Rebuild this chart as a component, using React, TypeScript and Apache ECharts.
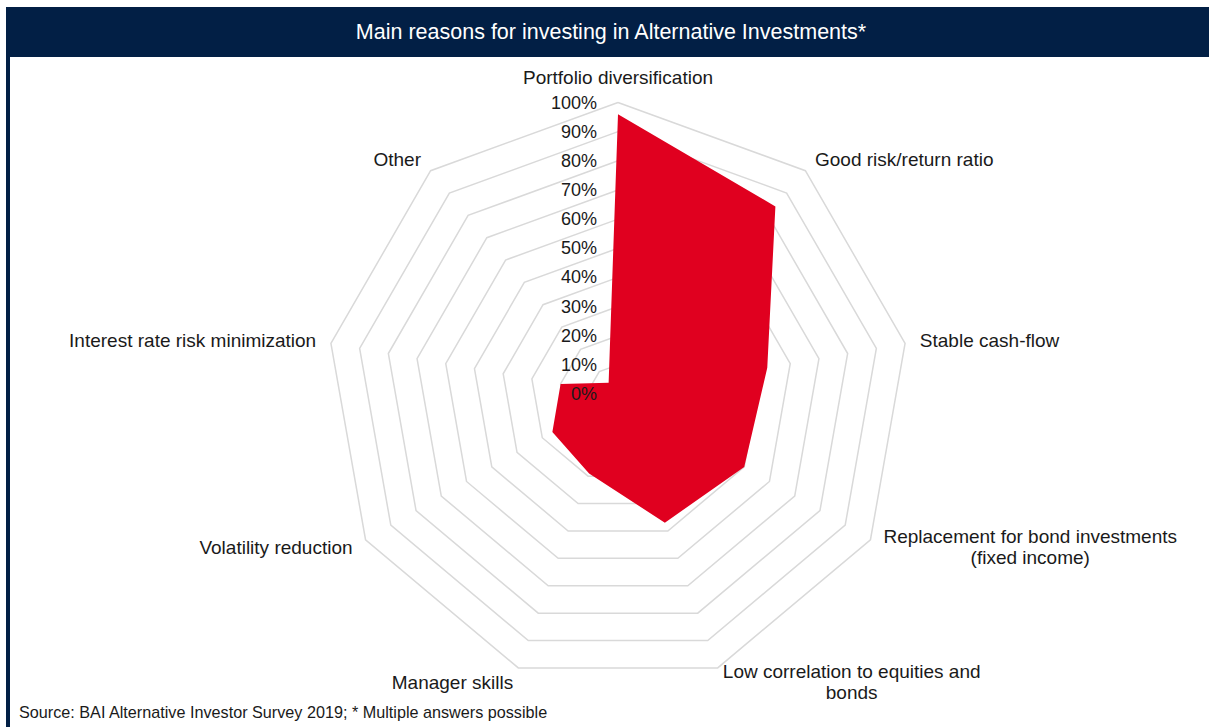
import React, { useEffect, useRef } from "react";
import * as echarts from "echarts";

// ---- data (clockwise from top) ----
const categories: string[] = [
  "Portfolio diversification",
  "Good risk/return ratio",
  "Stable cash-flow",
  "Replacement for bond investments\n(fixed income)",
  "Low correlation to equities and\nbonds",
  "Manager skills",
  "Volatility reduction",
  "Interest rate risk minimization",
  "Other",
];
const shares: number[] = [96, 84, 52, 50, 47, 29, 26, 20, 5];
const axisMax = 100;
const tickStep = 10;

const TITLE = "Main reasons for investing in Alternative Investments*";
const SOURCE = "Source: BAI Alternative Investor Survey 2019; * Multiple answers possible";

const FONT = "'Liberation Sans', Arial, sans-serif";
const NAVY = "#021f45";
const RED = "#e0001f";
const TEXT = "#1a1a1a";
const GRID = "#d9d9d9";

export default function App() {
  const ref = useRef<HTMLDivElement>(null);

  useEffect(() => {
    document.body.style.margin = "0";
    document.body.style.overflow = "hidden";
    if (!ref.current) return;
    const chart = echarts.init(ref.current, undefined, { renderer: "svg" });

    // ECharts radar runs counter-clockwise; reorder so the picture runs clockwise.
    const order = [0, ...categories.map((_, i) => i).slice(1).reverse()];
    const indicators = order.map((i) => ({ name: categories[i], max: axisMax, min: 0 }));
    const values = order.map((i) => shares[i]);

    const center = [618, 394];
    const radius = 291.5;

    const option: any = {
      animation: false,
      backgroundColor: "#ffffff",
      graphic: [
        { type: "rect", z: 0, shape: { x: 6, y: 7, width: 1203, height: 50 }, style: { fill: NAVY } },
        { type: "rect", z: 0, shape: { x: 6, y: 7, width: 4, height: 720 }, style: { fill: NAVY } },
      ],
      title: [
        {
          text: TITLE,
          left: 611,
          top: 21,
          textAlign: "center",
          padding: 0,
          z: 10,
          textStyle: { color: "#ffffff", fontSize: 21.5, fontWeight: "normal", fontFamily: FONT },
        },
        {
          text: SOURCE,
          left: 19,
          top: 704,
          padding: 0,
          z: 10,
          textStyle: { color: TEXT, fontSize: 16.2, fontWeight: "normal", fontFamily: FONT },
        },
      ],
      radar: [
        {
          center,
          radius,
          startAngle: 90,
          shape: "polygon",
          splitNumber: axisMax / tickStep,
          indicator: indicators,
          axisLine: { show: false },
          axisTick: { show: false },
          axisLabel: { show: false },
          splitArea: { show: false },
          splitLine: { show: true, lineStyle: { color: GRID, width: 1.5 } },
          nameGap: 15,
          axisName: {
            color: TEXT,
            fontSize: 19,
            fontFamily: FONT,
            lineHeight: 21,
            formatter: (name: string) =>
              name
                .split("\n")
                .map((l) => `{c|${l}}`)
                .join("\n"),
            rich: {
              c: { align: "center", fontSize: 19, fontFamily: FONT, color: TEXT, lineHeight: 21 },
            },
          },
        },
        {
          center,
          radius,
          startAngle: 90,
          shape: "polygon",
          splitNumber: axisMax / tickStep,
          z: 5,
          indicator: indicators.map((ind, k) => ({
            ...ind,
            axisLabel: k === 0 ? { show: true } : { show: false },
          })),
          axisName: { show: false },
          axisLine: { show: false },
          axisTick: { show: false },
          splitArea: { show: false },
          splitLine: { show: false },
          axisLabel: {
            show: false,
            color: TEXT,
            fontSize: 18,
            fontFamily: FONT,
            margin: 21,
            showMinLabel: true,
            showMaxLabel: true,
            hideOverlap: false,
            formatter: (v: number) => `${v}%`,
          },
        },
      ],
      series: [
        {
          type: "radar",
          radarIndex: 0,
          z: 2,
          symbol: "none",
          lineStyle: { width: 0 },
          areaStyle: { color: RED, opacity: 1 },
          itemStyle: { color: RED },
          data: [{ value: values, name: "Share" }],
        },
      ],
    };

    chart.setOption(option);
    return () => chart.dispose();
  }, []);

  return <div ref={ref} style={{ width: 1209, height: 727 }} />;
}
